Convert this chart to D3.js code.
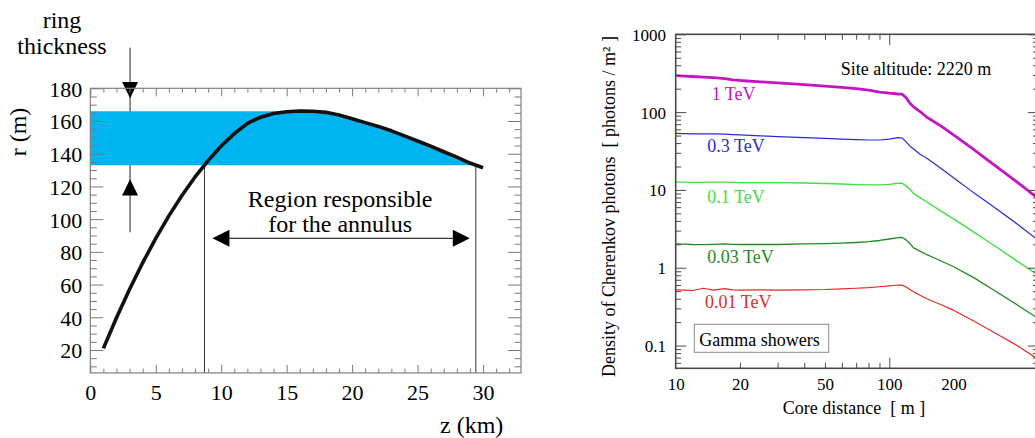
<!DOCTYPE html>
<html>
<head>
<meta charset="utf-8">
<script src="https://cdn.jsdelivr.net/npm/d3@7"></script>
<style>
  html, body { margin: 0; padding: 0; background: #fff; }
  svg { display: block; font-family: "Liberation Serif", "Times New Roman", serif; }
</style>
</head>
<body>
<svg id="fig" width="1035" height="438"></svg>
<script>
// ---------- Left panel: ring radius versus emission height ----------
const heightKm   = [1, 2, 3, 4, 5, 6, 7, 8, 9, 10, 11, 12, 13, 14, 15, 16, 17, 18, 19, 20,
                    21, 22, 23, 24, 25, 26, 27, 28, 29, 30];
const ringRadius = [21.0, 39.7, 57.1, 73.3, 88.3, 102.0, 114.5, 125.8, 135.8, 144.7,
                    152.3, 158.6, 162.3, 164.6, 165.7, 166.1, 166.0, 165.3, 163.7, 161.4,
                    159.0, 156.7, 154.0, 150.9, 147.8, 144.6, 141.2, 137.9, 134.3, 131.4];
const ringBand   = [133, 166];           // ring thickness (m)
const zTicks     = [0, 5, 10, 15, 20, 25, 30];
const rTicks     = [20, 40, 60, 80, 100, 120, 140, 160, 180];

// ---------- Right panel: lateral Cherenkov photon density ----------
const coreDistance = [10, 11, 12, 13.5, 15, 17, 18.5, 20, 25, 30, 40, 50, 60, 70, 80, 90,
                      100, 110, 115, 120, 125, 130, 140, 150, 175, 200, 250, 300, 400, 500];
const density1TeV   = [294, 290, 287, 282, 278, 270, 260, 255, 245, 237, 225, 216, 208, 200,
                       192, 181, 175, 171, 170, 153, 130, 117, 101, 86, 66, 51, 32.8, 22.5, 12.4, 7.7];
const density03TeV  = [53.4, 53, 52.5, 52.5, 52.5, 52, 51.5, 51, 49.5, 48.5, 47, 46, 45, 44.3,
                       43.8, 43.8, 45, 47, 46.5, 41.5, 36.5, 33.5, 28.5, 25.5, 18.8, 14.3, 9.1, 6.4, 3.6, 2.25];
const density01TeV  = [12.7, 12.6, 12.5, 12.5, 12.6, 12.6, 12.5, 12.4, 12.4, 12.4, 12.3, 12.1,
                       11.9, 11.7, 11.6, 11.6, 11.8, 12.2, 12.2, 11.2, 10.2, 9.0, 7.9, 7.0, 5.35,
                       4.25, 2.85, 2.05, 1.2, 0.8];
const density003TeV = [2.02, 2.01, 1.99, 1.98, 2.0, 2.03, 2.0, 1.99, 1.99, 1.99, 2.02, 2.04, 2.07,
                       2.11, 2.16, 2.24, 2.34, 2.44, 2.45, 2.28, 2.05, 1.8, 1.62, 1.47, 1.22, 1.03,
                       0.74, 0.54, 0.33, 0.22];
const density001TeV = [0.52, 0.515, 0.51, 0.545, 0.515, 0.54, 0.52, 0.515, 0.52, 0.515, 0.52, 0.525,
                       0.535, 0.545, 0.555, 0.57, 0.585, 0.6, 0.598, 0.565, 0.525, 0.49, 0.44, 0.4,
                       0.335, 0.285, 0.205, 0.155, 0.099, 0.066];
const energyLabels  = ["1 TeV", "0.3 TeV", "0.1 TeV", "0.03 TeV", "0.01 TeV"];
const densityTicks  = [0.1, 1, 10, 100, 1000];
const densityTickText = ["0.1", "1", "10", "100", "1000"];
const distanceTicks = [10, 20, 50, 100, 200];

const svg = d3.select("#fig");
const SERIF = '"Liberation Serif", "Times New Roman", serif';

function styleAxis(g, size, tickColor) {
  g.attr("font-family", SERIF).attr("font-size", size);
  g.select(".domain").remove();
  g.selectAll("line").attr("stroke", tickColor);
  g.selectAll("text").attr("fill", "#000");
}

// ===================== Left panel =====================
const L = { x0: 90.3, x1: 521, y0: 88.3, y1: 372.9 };
const xA = d3.scaleLinear().domain([0, 32.9]).range([L.x0, L.x1]);
const yA = d3.scaleLinear().domain([6, 180]).range([L.y1, L.y0]);
const gA = svg.append("g");

// heights where the curve enters / leaves the band
function crossings(level) {
  const out = [];
  for (let i = 0; i < heightKm.length - 1; i++) {
    const a = ringRadius[i] - level, b = ringRadius[i + 1] - level;
    if (a * b <= 0 && a !== b)
      out.push(heightKm[i] + (level - ringRadius[i]) * (heightKm[i + 1] - heightKm[i]) / (ringRadius[i + 1] - ringRadius[i]));
  }
  return out;
}
const [zIn, zOut] = crossings(ringBand[0]);
const iPeak = d3.maxIndex(ringRadius);

// ring-thickness indicator
const ringX = xA(3) + 0.5;
gA.append("line").attr("x1", ringX).attr("x2", ringX).attr("y1", 47.7).attr("y2", 232.3)
  .attr("stroke", "#222").attr("stroke-width", 1);

// shaded band, bounded by the curve after its maximum
const bandPts = [{ z: 0, t: ringBand[1] }, { z: heightKm[iPeak], t: ringBand[1] }];
for (let i = iPeak + 1; i < heightKm.length; i++) {
  if (heightKm[i] >= zOut) break;
  bandPts.push({ z: heightKm[i], t: Math.min(ringBand[1], ringRadius[i]) });
}
bandPts.push({ z: zOut, t: ringBand[0] });
gA.append("path")
  .attr("d", d3.area().x(d => xA(d.z)).y0(yA(ringBand[0])).y1(d => yA(d.t))(bandPts))
  .attr("fill", "#00b4f0");

// arrowheads of the thickness indicator
const tri = (x, tipY, dir) => `M${x - 8},${tipY - dir * 16.3}L${x + 8},${tipY - dir * 16.3}L${x},${tipY}Z`;
gA.append("path").attr("d", tri(ringX, yA(ringBand[1]) - 13, 1)).attr("fill", "#000");
gA.append("path").attr("d", tri(ringX, yA(ringBand[0]) + 14, -1)).attr("fill", "#000");

// vertical markers where the curve crosses the lower band edge
[zIn, zOut].forEach(z => {
  gA.append("line").attr("x1", xA(z)).attr("x2", xA(z))
    .attr("y1", yA(ringBand[0])).attr("y2", L.y1)
    .attr("stroke", "#333").attr("stroke-width", 1);
});

// the r(z) curve
gA.append("path")
  .datum(heightKm.map((z, i) => [z, ringRadius[i]]))
  .attr("d", d3.line().x(d => xA(d[0])).y(d => yA(d[1])))
  .attr("fill", "none").attr("stroke", "#111").attr("stroke-width", 3.6)
  .attr("stroke-linejoin", "round");

// double arrow spanning the responsible region
const arrY = 238.3;
const ax1 = xA(zIn) + 8, ax2 = xA(zOut) - 6;
gA.append("line").attr("x1", ax1 + 10).attr("x2", ax2 - 10).attr("y1", arrY).attr("y2", arrY)
  .attr("stroke", "#000").attr("stroke-width", 1);
gA.append("path").attr("d", `M${ax1},${arrY}L${ax1 + 17},${arrY - 8.5}L${ax1 + 17},${arrY + 8.5}Z`).attr("fill", "#000");
gA.append("path").attr("d", `M${ax2},${arrY}L${ax2 - 17},${arrY - 8.5}L${ax2 - 17},${arrY + 8.5}Z`).attr("fill", "#000");
const midX = (xA(zIn) + xA(zOut)) / 2;
gA.append("text").attr("x", midX).attr("y", 207).attr("text-anchor", "middle")
  .attr("font-size", 24).text("Region responsible");
gA.append("text").attr("x", midX).attr("y", 232).attr("text-anchor", "middle")
  .attr("font-size", 24).text("for the annulus");

// axes of the left panel (ticks point into the frame)
const rMinor = d3.range(10, 181, 5).filter(v => v % 20 !== 0);
const zMinor = d3.range(1, 33, 1).filter(v => v % 5 !== 0);
const zMajor = d3.range(0, 33, 5);
const tickGray = "#7a7a7a";

gA.append("g").attr("transform", `translate(${L.x0},0)`)
  .call(d3.axisLeft(yA).tickValues(rTicks).tickSize(-13).tickPadding(8))
  .call(g => styleAxis(g, 22, tickGray))
  .call(g => g.selectAll("text").attr("dy", "0.36em"));
gA.append("g").attr("transform", `translate(${L.x0},0)`)
  .call(d3.axisLeft(yA).tickValues(rMinor).tickSize(-6.5).tickFormat(""))
  .call(g => styleAxis(g, 22, tickGray));
gA.append("g").attr("transform", `translate(${L.x1},0)`)
  .call(d3.axisRight(yA).tickValues(rTicks).tickSize(-13).tickFormat(""))
  .call(g => styleAxis(g, 22, tickGray));
gA.append("g").attr("transform", `translate(${L.x1},0)`)
  .call(d3.axisRight(yA).tickValues(rMinor).tickSize(-6.5).tickFormat(""))
  .call(g => styleAxis(g, 22, tickGray));

gA.append("g").attr("transform", `translate(0,${L.y1})`)
  .call(d3.axisBottom(xA).tickValues(zTicks).tickSize(-8).tickPadding(11.5))
  .call(g => styleAxis(g, 22, tickGray));
gA.append("g").attr("transform", `translate(0,${L.y1})`)
  .call(d3.axisBottom(xA).tickValues(zMajor.filter(v => !zTicks.includes(v))).tickSize(-8).tickFormat(""))
  .call(g => styleAxis(g, 22, tickGray));
gA.append("g").attr("transform", `translate(0,${L.y1})`)
  .call(d3.axisBottom(xA).tickValues(zMinor).tickSize(-4.3).tickFormat(""))
  .call(g => styleAxis(g, 22, tickGray));
gA.append("g").attr("transform", `translate(0,${L.y0})`)
  .call(d3.axisTop(xA).tickValues(zMajor).tickSize(-8).tickFormat(""))
  .call(g => styleAxis(g, 22, tickGray));
gA.append("g").attr("transform", `translate(0,${L.y0})`)
  .call(d3.axisTop(xA).tickValues(zMinor).tickSize(-4.3).tickFormat(""))
  .call(g => styleAxis(g, 22, tickGray));

gA.append("rect").attr("x", L.x0).attr("y", L.y0)
  .attr("width", L.x1 - L.x0).attr("height", L.y1 - L.y0)
  .attr("fill", "none").attr("stroke", "#808080").attr("stroke-width", 1.2);

gA.append("text").attr("transform", "translate(25.5,132) rotate(-90)")
  .attr("text-anchor", "middle").attr("font-size", 24).text("r (m)");
gA.append("text").attr("x", 471.7).attr("y", 433).attr("text-anchor", "middle")
  .attr("font-size", 24).text("z (km)");
gA.append("text").attr("x", 62).attr("y", 28).attr("text-anchor", "middle")
  .attr("font-size", 24).text("ring");
gA.append("text").attr("x", 62).attr("y", 54).attr("text-anchor", "middle")
  .attr("font-size", 24).text("thickness");

// ===================== Right panel =====================
const R = { x0: 675.7, x1: 1038.5, y0: 34.3, y1: 368.3 };
const xB = d3.scaleLog().domain([10, 500]).range([R.x0, R.x1]);
const yB = d3.scaleLog().domain([0.051, 1000]).range([R.y1, R.y0]);
const gB = svg.append("g");

const clip = svg.append("defs").append("clipPath").attr("id", "plotB");
clip.append("rect").attr("x", R.x0).attr("y", R.y0).attr("width", R.x1 - R.x0).attr("height", R.y1 - R.y0);

const series = [
  { vals: density1TeV,   color: "#c414c4", width: 2.8 },
  { vals: density03TeV,  color: "#2a2ad4", width: 1.2 },
  { vals: density01TeV,  color: "#3fe03f", width: 1.4 },
  { vals: density003TeV, color: "#228b22", width: 1.3 },
  { vals: density001TeV, color: "#e42a2a", width: 1.2 }
];
const lineB = d3.line().x(d => xB(d[0])).y(d => yB(d[1]));
const curves = gB.append("g").attr("clip-path", "url(#plotB)");
series.forEach(s => {
  curves.append("path")
    .datum(coreDistance.map((x, i) => [x, s.vals[i]]))
    .attr("d", lineB)
    .attr("fill", "none").attr("stroke", s.color).attr("stroke-width", s.width)
    .attr("stroke-linejoin", "round");
});

// curve labels
const labelPos = [[711.7, 100], [707.3, 151.7], [707.3, 202.7], [707.3, 263.3], [705, 308.3]];
energyLabels.forEach((t, i) => {
  gB.append("text").attr("x", labelPos[i][0]).attr("y", labelPos[i][1])
    .attr("font-size", 18).attr("fill", series[i].color).text(t);
});

gB.append("text").attr("x", 840.7).attr("y", 75).attr("font-size", 18).text("Site altitude: 2220 m");

gB.append("rect").attr("x", 694.3).attr("y", 324.3).attr("width", 134.4).attr("height", 28)
  .attr("fill", "#fff").attr("stroke", "#8a8a8a").attr("stroke-width", 1);
gB.append("text").attr("x", 699.3).attr("y", 345.7).attr("font-size", 18).text("Gamma showers");

// axes of the right panel
const decadeMinor = [];
[0.01, 0.1, 1, 10, 100].forEach(d => d3.range(2, 10).forEach(k => {
  const v = +(k * d).toPrecision(3);
  if (v >= 0.051 && v <= 1000) decadeMinor.push(v);
}));
const xMinor = [20, 30, 40, 50, 60, 70, 80, 90];
const xMajor = [100];
const frameGray = "#4a4a4a";

gB.append("g").attr("transform", `translate(${R.x0},0)`)
  .call(d3.axisLeft(yB).tickValues(densityTicks).tickSize(-10.5).tickPadding(9.7)
        .tickFormat((d, i) => densityTickText[i]))
  .call(g => styleAxis(g, 17, frameGray))
  .call(g => g.selectAll("text").attr("dy", "0.35em"));
gB.append("g").attr("transform", `translate(${R.x0},0)`)
  .call(d3.axisLeft(yB).tickValues(decadeMinor).tickSize(-5.5).tickFormat(""))
  .call(g => styleAxis(g, 17, frameGray));
gB.append("g").attr("transform", `translate(${R.x1},0)`)
  .call(d3.axisRight(yB).tickValues(densityTicks).tickSize(-10.5).tickFormat(""))
  .call(g => styleAxis(g, 17, frameGray));
gB.append("g").attr("transform", `translate(${R.x1},0)`)
  .call(d3.axisRight(yB).tickValues(decadeMinor).tickSize(-5.5).tickFormat(""))
  .call(g => styleAxis(g, 17, frameGray));

gB.append("g").attr("transform", `translate(0,${R.y1})`)
  .call(d3.axisBottom(xB).tickValues(distanceTicks).tickSize(0).tickPadding(10.1)
        .tickFormat(d3.format("d")))
  .call(g => styleAxis(g, 17, frameGray));
gB.append("g").attr("transform", `translate(0,${R.y1})`)
  .call(d3.axisBottom(xB).tickValues(xMajor).tickSize(-10.5).tickFormat(""))
  .call(g => styleAxis(g, 17, frameGray));
gB.append("g").attr("transform", `translate(0,${R.y1})`)
  .call(d3.axisBottom(xB).tickValues(xMinor).tickSize(-5.5).tickFormat(""))
  .call(g => styleAxis(g, 17, frameGray));
gB.append("g").attr("transform", `translate(0,${R.y0})`)
  .call(d3.axisTop(xB).tickValues(xMajor).tickSize(-10.5).tickFormat(""))
  .call(g => styleAxis(g, 17, frameGray));
gB.append("g").attr("transform", `translate(0,${R.y0})`)
  .call(d3.axisTop(xB).tickValues(xMinor).tickSize(-5.5).tickFormat(""))
  .call(g => styleAxis(g, 17, frameGray));

gB.append("rect").attr("x", R.x0).attr("y", R.y0)
  .attr("width", R.x1 - R.x0).attr("height", R.y1 - R.y0)
  .attr("fill", "none").attr("stroke", frameGray).attr("stroke-width", 1.6);

gB.append("text").attr("x", 854).attr("y", 413.5).attr("text-anchor", "middle")
  .attr("font-size", 18).text("Core distance\u00a0\u00a0[ m ]");
gB.append("text").attr("transform", "translate(615,206.5) rotate(-90)")
  .attr("text-anchor", "middle").attr("font-size", 18)
  .text("Density of Cherenkov photons\u00a0\u00a0[ photons / m\u00b2 ]");
</script>
</body>
</html>
